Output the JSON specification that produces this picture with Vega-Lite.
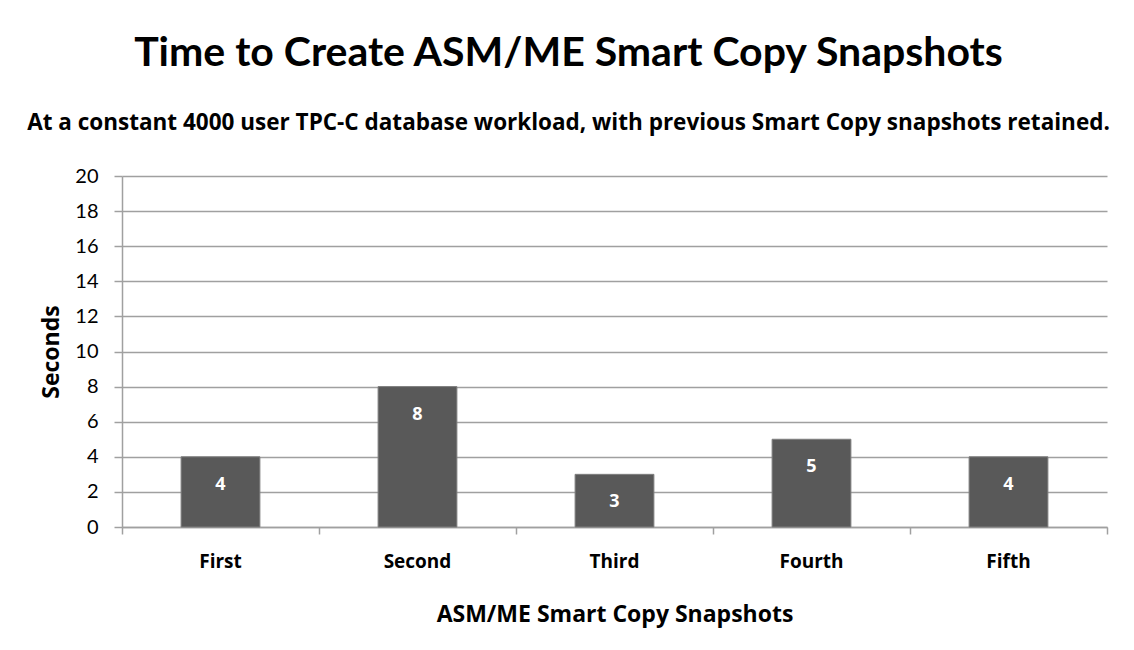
{
  "$schema": "https://vega.github.io/schema/vega-lite/v6.json",
  "width": 985,
  "height": 351,
  "autosize": "none",
  "padding": {"left": 122, "top": 176, "right": 27, "bottom": 123},
  "background": "white",
  "title": {
    "text": "Time to Create ASM/ME Smart Copy Snapshots",
    "subtitle": "At a constant 4000 user TPC-C database workload, with previous Smart Copy snapshots retained.",
    "anchor": "middle",
    "dx": -46,
    "font": "Lato",
    "fontSize": 41,
    "fontWeight": "bold",
    "color": "#000000",
    "subtitleFont": "Open Sans",
    "subtitleFontSize": 22.5,
    "subtitleFontWeight": "bold",
    "subtitleColor": "#000000",
    "subtitlePadding": 37,
    "offset": 31
  },
  "data": {
    "values": [
      {"snapshot": "First", "seconds": 4},
      {"snapshot": "Second", "seconds": 8},
      {"snapshot": "Third", "seconds": 3},
      {"snapshot": "Fourth", "seconds": 5},
      {"snapshot": "Fifth", "seconds": 4}
    ]
  },
  "encoding": {
    "x": {
      "field": "snapshot",
      "type": "nominal",
      "sort": null,
      "scale": {"paddingInner": 0, "paddingOuter": 0},
      "axis": {
        "title": "ASM/ME Smart Copy Snapshots",
        "labelAngle": 0,
        "labelFont": "Open Sans",
        "labelFontSize": 19,
        "labelFontWeight": "bold",
        "labelColor": "#000000",
        "labelPadding": 18,
        "bandPosition": 1,
        "tickExtra": true,
        "tickSize": 7,
        "tickColor": "#a0a0a0",
        "tickWidth": 1.5,
        "domainColor": "#a0a0a0",
        "domainWidth": 1.5,
        "grid": false,
        "titleFont": "Open Sans",
        "titleFontSize": 23,
        "titleFontWeight": "bold",
        "titleColor": "#000000",
        "titlePadding": 32
      }
    },
    "y": {
      "field": "seconds",
      "type": "quantitative",
      "scale": {"domain": [0, 20], "nice": false},
      "axis": {
        "title": "Seconds",
        "values": [0, 2, 4, 6, 8, 10, 12, 14, 16, 18, 20],
        "labelFont": "Lato",
        "labelFontSize": 20,
        "labelColor": "#000000",
        "labelPadding": 16,
        "tickSize": 8,
        "tickColor": "#a0a0a0",
        "tickWidth": 1.5,
        "domainColor": "#a0a0a0",
        "domainWidth": 1.5,
        "grid": true,
        "gridColor": "#a0a0a0",
        "gridWidth": 1.5,
        "titleFont": "Open Sans",
        "titleFontSize": 23,
        "titleFontWeight": "bold",
        "titleColor": "#000000",
        "titlePadding": 11
      }
    }
  },
  "layer": [
    {
      "mark": {"type": "bar", "color": "#595959", "stroke": "#7f7f7f", "strokeWidth": 1, "width": {"band": 0.4}}
    },
    {
      "mark": {"type": "text", "color": "#ffffff", "font": "Open Sans", "fontSize": 18, "fontWeight": "bold", "baseline": "middle", "dy": 28},
      "encoding": {"text": {"field": "seconds", "type": "quantitative"}}
    }
  ],
  "config": {
    "view": {"stroke": null}
  }
}
